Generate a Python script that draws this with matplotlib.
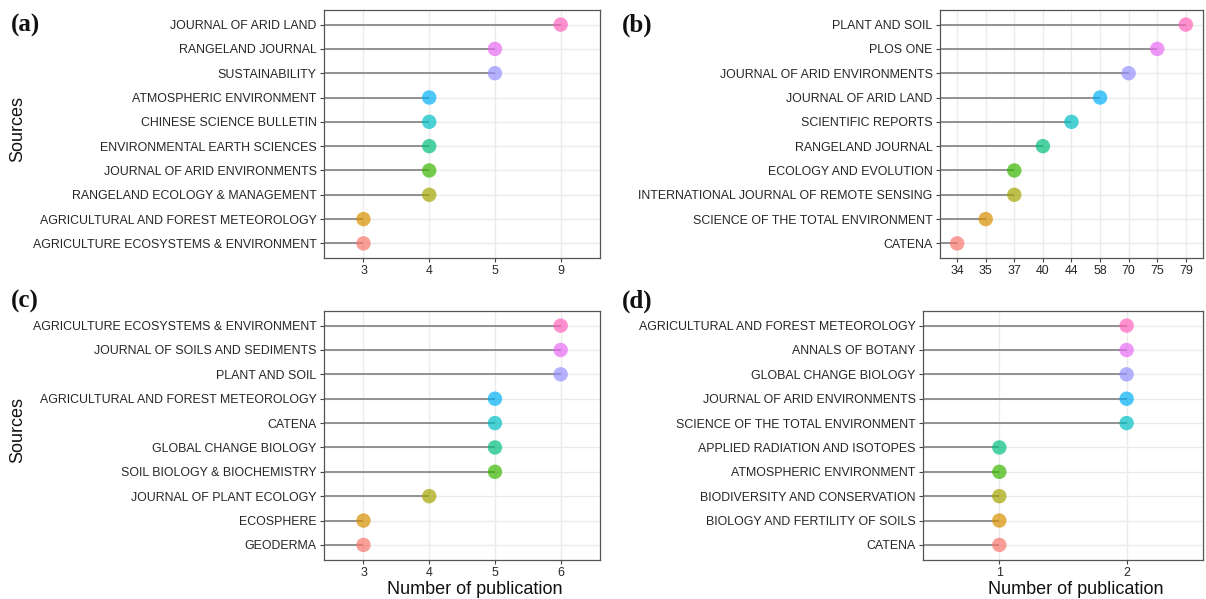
import numpy as np
import matplotlib
matplotlib.use("Agg")
import matplotlib.pyplot as plt

plt.rcParams['font.family'] = ['Liberation Sans', 'DejaVu Sans']

# data, listed bottom -> top as drawn
src_a = ["AGRICULTURE ECOSYSTEMS & ENVIRONMENT", "AGRICULTURAL AND FOREST METEOROLOGY",
         "RANGELAND ECOLOGY & MANAGEMENT", "JOURNAL OF ARID ENVIRONMENTS",
         "ENVIRONMENTAL EARTH SCIENCES", "CHINESE SCIENCE BULLETIN",
         "ATMOSPHERIC ENVIRONMENT", "SUSTAINABILITY", "RANGELAND JOURNAL",
         "JOURNAL OF ARID LAND"]
num_a = [3, 3, 4, 4, 4, 4, 4, 5, 5, 9]

src_b = ["CATENA", "SCIENCE OF THE TOTAL ENVIRONMENT", "INTERNATIONAL JOURNAL OF REMOTE SENSING",
         "ECOLOGY AND EVOLUTION", "RANGELAND JOURNAL", "SCIENTIFIC REPORTS",
         "JOURNAL OF ARID LAND", "JOURNAL OF ARID ENVIRONMENTS", "PLOS ONE", "PLANT AND SOIL"]
num_b = [34, 35, 37, 37, 40, 44, 58, 70, 75, 79]

src_c = ["GEODERMA", "ECOSPHERE", "JOURNAL OF PLANT ECOLOGY", "SOIL BIOLOGY & BIOCHEMISTRY",
         "GLOBAL CHANGE BIOLOGY", "CATENA", "AGRICULTURAL AND FOREST METEOROLOGY",
         "PLANT AND SOIL", "JOURNAL OF SOILS AND SEDIMENTS", "AGRICULTURE ECOSYSTEMS & ENVIRONMENT"]
num_c = [3, 3, 4, 5, 5, 5, 5, 6, 6, 6]

src_d = ["CATENA", "BIOLOGY AND FERTILITY OF SOILS", "BIODIVERSITY AND CONSERVATION",
         "ATMOSPHERIC ENVIRONMENT", "APPLIED RADIATION AND ISOTOPES",
         "SCIENCE OF THE TOTAL ENVIRONMENT", "JOURNAL OF ARID ENVIRONMENTS",
         "GLOBAL CHANGE BIOLOGY", "ANNALS OF BOTANY", "AGRICULTURAL AND FOREST METEOROLOGY"]
num_d = [1, 1, 1, 1, 1, 2, 2, 2, 2, 2]

# ggplot default hue palette for 10 levels
hue10 = ["#F8766D", "#D89000", "#A3A500", "#39B600", "#00BF7D",
         "#00BFC4", "#00B0F6", "#9590FF", "#E76BF3", "#FF62BC"]

fig = plt.figure(figsize=(12.06, 5.99), dpi=100)

panels = [
    ("(a)", src_a, num_a, [0.2687, 0.5693, 0.2289, 0.414], True, False),
    ("(b)", src_b, num_b, [0.7794, 0.5693, 0.2181, 0.414], False, False),
    ("(c)", src_c, num_c, [0.2687, 0.0659, 0.2289, 0.4149], True, True),
    ("(d)", src_d, num_d, [0.7653, 0.0659, 0.2322, 0.4149], False, True),
]
letter_pos = {"(a)": (0.009, 0.958), "(b)": (0.516, 0.958),
              "(c)": (0.009, 0.497), "(d)": (0.516, 0.497)}

for tag, src, num, rect, ylab, xlab in panels:
    ax = fig.add_axes(rect)
    levels = sorted(set(num))            # discrete x axis like ggplot
    xi = [levels.index(v) for v in num]
    yi = np.arange(len(src))
    x0 = -0.6
    ax.set_xlim(x0, len(levels) - 1 + 0.6)
    ax.set_ylim(-0.6, len(src) - 1 + 0.6)

    for k in range(len(levels)):
        ax.axvline(k, color="#EBEBEB", lw=1.0, zorder=0)
    for k in yi:
        ax.axhline(k, color="#EBEBEB", lw=1.0, zorder=0)

    ax.hlines(yi, x0, xi, color="#8A8A8A", lw=1.3, zorder=2)
    ax.scatter(xi, yi, s=108, c=hue10, alpha=0.7, edgecolors="none", zorder=3)

    ax.set_xticks(range(len(levels)))
    ax.set_xticklabels([str(v) for v in levels])
    ax.set_yticks(yi)
    ax.set_yticklabels(src)
    ax.tick_params(axis="both", labelsize=8.9, labelcolor="#262626", color="#444444",
                   length=2.8, width=0.8, pad=2.5)
    for sp in ax.spines.values():
        sp.set_color("#555555")
        sp.set_linewidth(0.9)

    if ylab:
        fig.text(0.0145, rect[1] + rect[3] / 2 + 0.009, "Sources", rotation=90,
                 ha="center", va="center", fontsize=13, color="#111111")
    if xlab:
        ax.set_xlabel("Number of publication", fontsize=13, color="#111111", labelpad=1)
        ax.xaxis.set_label_coords(0.545, -0.085)

    lx, ly = letter_pos[tag]
    fig.text(lx, ly, tag, fontsize=18, fontweight="bold", family="Liberation Serif",
             ha="left", va="center", color="#111111")

fig.savefig("out.png", dpi=100)
